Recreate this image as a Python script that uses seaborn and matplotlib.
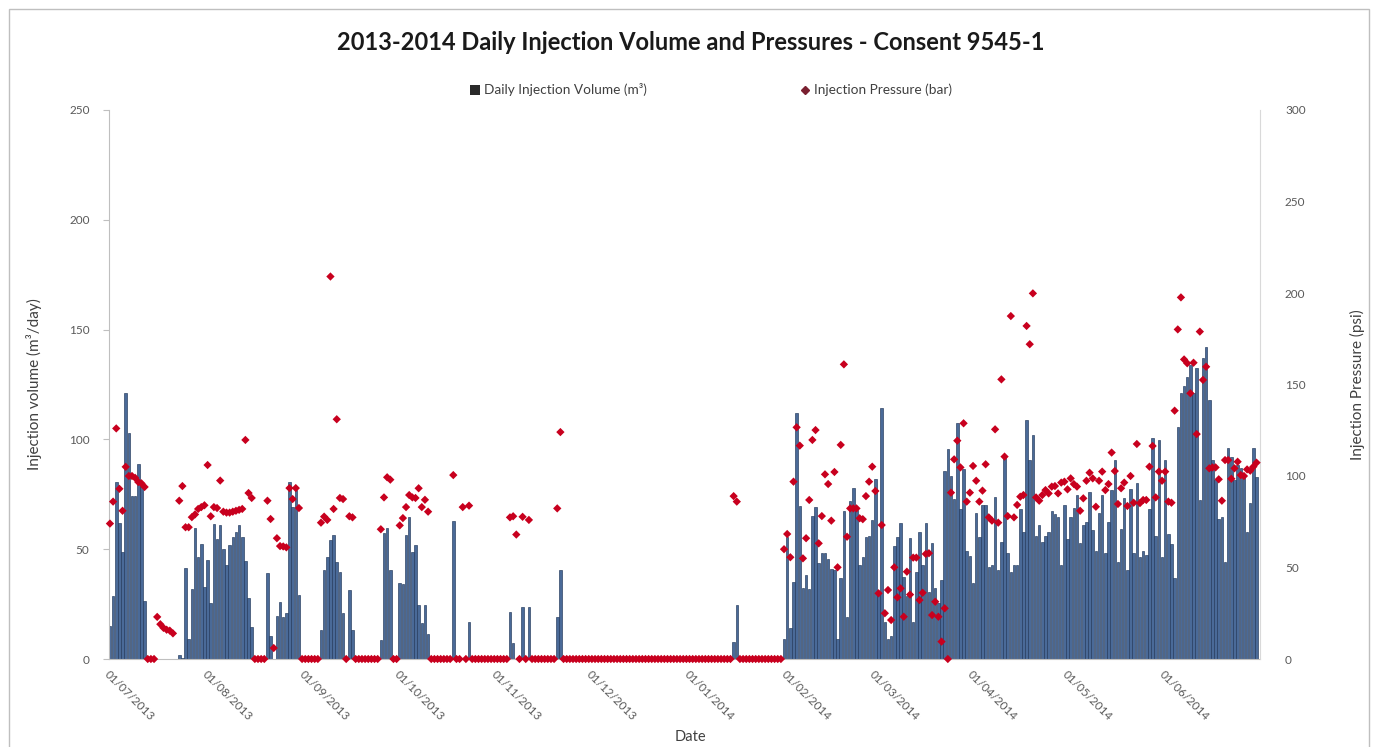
import numpy as np
import pandas as pd
import matplotlib
matplotlib.use("Agg")
import matplotlib.pyplot as plt
import seaborn as sns
from matplotlib.patches import Patch, Rectangle
from matplotlib.lines import Line2D

nan = np.nan

# ---- data: daily injection volume (m3/day) per month ----
vol_jul = [15, 28.7, 80.7, 62, 48.5, 121, 103, 74, 74, 88.8, 79.7, 26.6, 0, 0, 0, 0, 0, 0, 0, 0, 0, 0,
           2, 0.5, 41.4, 9, 32, 59.6, 46.6, 52.4, 32.7]
vol_aug = [45, 25.6, 61.5, 54.6, 61, 50, 42.8, 52, 55.7, 58, 61, 55.7, 44.8, 27.7, 14.6, 0, 0, 0, 0,
           39, 10.5, 0, 19.6, 26, 19.3, 21, 80.7, 69, 77, 29, 0]
vol_sep = [0, 0, 0, 0, 0, 13, 40.5, 46.6, 54, 56.4, 44.3, 39.8, 21, 0, 31.4, 13, 0, 0, 0, 0, 0, 0, 0, 0,
           8.6, 57.5, 59.6, 40.5, 0, 0]
vol_oct = [34.6, 34, 56.4, 64.8, 48.9, 52, 24.6, 16.4, 24.6, 11.4, 0, 0, 0, 0, 0, 0, 0, 63, 0, 0, 0, 0,
           17, 0, 0, 0, 0, 0, 0, 0, 0]
vol_nov = [0, 0, 0, 0, 21.5, 7.3, 0, 0, 23.8, 0, 23.8, 0, 0, 0, 0, 0, 0, 0, 0, 19.3, 40.5,
           0, 0, 0, 0, 0, 0, 0, 0, 0]
vol_dec = [0, 0, 0, 0, 0, 0, 0, 0, 0, 0, 0, 0, 0, 0, 0, 0, 0, 0, 0, 0, 0, 0, 0, 0, 0, 0, 0, 0, 0, 0, 0]
vol_jan = [0, 0, 0, 0, 0, 0, 0, 0, 0, 0, 0, 0, 0, 0, 7.9, 24.6, 0, 0, 0, 0, 0, 0, 0, 0, 0, 0, 0, 0, 0, 0, 9]
vol_feb = [55.7, 14, 35, 112, 69.7, 32.2, 38.3, 31.7, 65.1, 69, 43.9, 48.4, 48.4, 45.4, 40.8, 40.5, 9,
           36.7, 67.5, 19, 72.1, 77.7, 67.9, 42.8, 46.6, 55.4, 56, 63.3]
vol_mar = [81.8, 29.9, 114.2, 17, 9, 10.5, 51.5, 55.7, 61.8, 37.5, 28.7, 54.9, 17, 39.8, 58, 42.8, 61.8,
           30.7, 52.6, 32.2, 25.4, 36, 85.7, 95.5, 83.3, 72.7, 107.6, 68.1, 86.3, 49, 46.9]
vol_apr = [34.4, 66.3, 55.7, 70.1, 70.1, 42, 42.8, 73.6, 40.5, 53.4, 92.4, 48.1, 39.8, 42.8, 42.8, 68.1,
           58, 108.8, 90.6, 102, 56, 61, 53.4, 56, 58, 67.5, 66, 64.8, 42.8, 70.1]
vol_may = [54.5, 64.8, 68.6, 74.7, 53, 61, 62.5, 76.2, 58.7, 49, 66.6, 74.7, 48.1, 62.5, 77, 90.6, 44.3,
           59, 73.2, 40.5, 77.3, 48.1, 80.3, 46.3, 49, 47.4, 68.1, 100.5, 56, 99.7, 46.6]
vol_jun = [90.6, 56.9, 52.4, 36.7, 105.8, 121, 124.3, 128.6, 133.9, 121, 132.4, 72.4, 136.9, 141.9, 118,
           90.6, 81.5, 63.6, 64.8, 44.3, 95.9, 92.1, 81.5, 88.3, 86.8, 83, 58, 70.9, 95.9, 83]

# ---- data: injection pressure (psi) per month ----
pres_jul = [74, 86, 126, 93, 81, 105, 100, 100, 99, 96.7, 96, 94, 0, 0, 0, 23, 19, 17, 16, 15.5, 14, nan,
            86.5, 94.5, 72, 72, 77.5, 79, 82, 83, 84]
pres_aug = [106, 78, 83, 82.5, 97.5, 80.5, 80, 80, 80.5, 81, 81.5, 82, 119.7, 90.7, 88, 0, 0, 0, 0,
            86.5, 76.5, 6, 66, 61.7, 61.5, 61, 93.4, 87.4, 93.4, 82.5, 0]
pres_sep = [0, 0, 0, 0, 0, 74.5, 77.8, 76, 209, 82, 131, 88, 87.4, 0, 78, 77.4, 0, 0, 0, 0, 0, 0, 0, 0,
            70.9, 88.3, 99.3, 98, 0, 0]
pres_oct = [73, 77, 83, 89.6, 88.3, 88, 93.3, 83, 87, 80.5, 0, 0, 0, 0, 0, 0, 0, 100.5, 0, 0, 83, 0,
            83.8, 0, 0, 0, 0, 0, 0, 0, 0]
pres_nov = [0, 0, 0, 0, 77.4, 78, 68, 0, 77.7, 0, 76, 0, 0, 0, 0, 0, 0, 0, 0, 82.3, 124,
            0, 0, 0, 0, 0, 0, 0, 0, 0]
pres_dec = [0, 0, 0, 0, 0, 0, 0, 0, 0, 0, 0, 0, 0, 0, 0, 0, 0, 0, 0, 0, 0, 0, 0, 0, 0, 0, 0, 0, 0, 0, 0]
pres_jan = [0, 0, 0, 0, 0, 0, 0, 0, 0, 0, 0, 0, 0, 0, 89, 86, 0, 0, 0, 0, 0, 0, 0, 0, 0, 0, 0, 0, 0, 0, 60]
pres_feb = [68.3, 55.6, 96.9, 126.6, 116.6, 55, 66, 86.9, 119.7, 125.1, 63.2, 78.1, 100.9, 95.6, 75.6,
            102.2, 50.1, 117, 161, 66.8, 82.3, 82.3, 82.3, 76.9, 76.4, 89, 96.9, 105.1]
pres_mar = [91.8, 35.9, 73.2, 25, 37.7, 21.3, 50.1, 33.7, 38.6, 23.1, 47.7, 35.2, 55.4, 55.4, 32.2, 36.2,
            57.4, 57.8, 24, 31.3, 23.1, 9.5, 27.7, 0, 90.9, 109.1, 119.3, 104.7, 128.8, 86, 90.9]
pres_apr = [105.5, 97.4, 86, 92, 106.4, 77.4, 75.6, 125.5, 74.5, 152.8, 110.6, 78.1, 187.4, 77.4, 84.2,
            88.7, 89.6, 182, 172, 199.8, 88.3, 86.5, 89.6, 92.3, 90.5, 94.2, 94.5, 90.5, 96.4, 96.9]
pres_may = [92.7, 98.7, 95.6, 94.2, 81, 87.8, 97.4, 101.8, 98.7, 83.2, 97.4, 102.4, 92.3, 95.6, 112.8,
            102.7, 84.7, 93.3, 96.4, 83.6, 100, 85.4, 117.5, 85.2, 86.9, 86.9, 105.1, 116.4, 88.3, 102.4, 97.4]
pres_jun = [102.4, 86, 85.4, 135.7, 180.1, 197.6, 163.7, 161.6, 145.2, 161.9, 122.9, 178.9, 152.5, 159.7,
            104.2, 104.7, 104.7, 98.2, 86.5, 108.7, 108.7, 98.5, 104.2, 107.8, 100.5, 100, 103.6, 102.9,
            105.1, 107.3]

tick_labels = ["01/07/2013", "01/08/2013", "01/09/2013", "01/10/2013", "01/11/2013", "01/12/2013",
               "01/01/2014", "01/02/2014", "01/03/2014", "01/04/2014", "01/05/2014", "01/06/2014"]
start_date = "2013-07-01"

title = "2013-2014 Daily Injection Volume and Pressures - Consent 9545-1"
legend_labels = ["Daily Injection Volume (m³)", "Injection Pressure (bar)"]

volume = (vol_jul + vol_aug + vol_sep + vol_oct + vol_nov + vol_dec +
          vol_jan + vol_feb + vol_mar + vol_apr + vol_may + vol_jun)
pressure = (pres_jul + pres_aug + pres_sep + pres_oct + pres_nov + pres_dec +
            pres_jan + pres_feb + pres_mar + pres_apr + pres_may + pres_jun)

dates = pd.date_range(start_date, periods=len(volume), freq="D")
df = pd.DataFrame({"day": np.arange(len(volume)), "volume": volume, "pressure": pressure})
tick_pos = [(d - dates[0]).days for d in pd.to_datetime(tick_labels, dayfirst=True)]

# ---- style ----
sns.set_theme(style="white")
plt.rcParams["font.family"] = ["Lato", "DejaVu Sans"]

W, H = 1375, 747
fig = plt.figure(figsize=(W / 100, H / 100), dpi=100)
L, R, T, B = 109, 1260, 110, 659
ax = fig.add_axes([L / W, 1 - B / H, (R - L) / W, (B - T) / H])

bar_face = "#4A6A98"
bar_edge = "#22385A"
red = "#C8001E"
grey_txt = "#595959"
spine_c = "#BFBFBF"

sns.barplot(data=df, x="day", y="volume", native_scale=True, width=0.8, color=bar_face,
            saturation=1, edgecolor=bar_edge, linewidth=0.45, errorbar=None, ax=ax)

ax2 = ax.twinx()
sns.scatterplot(data=df, x="day", y="pressure", marker="D", s=18, color=red, edgecolor="none",
                ax=ax2, legend=False, zorder=3)
for c in ax2.collections:
    c.set_clip_on(False)

for a in (ax, ax2):
    a.set_xlim(-0.3, 365.1)
ax.set_ylim(0, 250)
ax2.set_ylim(0, 300)
ax.set_yticks(np.arange(0, 251, 50))
ax2.set_yticks(np.arange(0, 301, 50))

ax.set_xticks(tick_pos)
ax.set_xticklabels(tick_labels, rotation=-45, ha="left", va="top", rotation_mode="anchor",
                   fontsize=8.5, color=grey_txt)
ax.tick_params(axis="x", length=0, pad=7)
ax.tick_params(axis="y", length=4, width=0.8, color=spine_c, labelsize=8.5, labelcolor=grey_txt,
               pad=10, left=True)
ax2.tick_params(axis="y", length=0, labelsize=8.5, labelcolor=grey_txt, pad=18, right=True)

ax.set_xlabel("")
ax.set_ylabel("Injection volume (m³/day)", fontsize=11, color="#404040")
ax.yaxis.set_label_coords((42 - L) / (R - L), 0.5)
ax2.set_ylabel("Injection Pressure (psi)", fontsize=11, color="#404040", rotation=90)
ax2.yaxis.set_label_coords((1350 - L) / (R - L), 0.5)

for a in (ax, ax2):
    a.spines["top"].set_visible(False)
ax.spines["left"].set_color(spine_c)
ax.spines["bottom"].set_color(spine_c)
ax.spines["right"].set_visible(False)
ax2.spines["left"].set_visible(False)
ax2.spines["bottom"].set_visible(False)
ax2.spines["right"].set_color("#D9D9D9")
for s in ("left", "bottom"):
    ax.spines[s].set_linewidth(0.8)
ax2.spines["right"].set_linewidth(0.8)

fig.text(691 / W, 1 - 42 / H, title, ha="center", va="center", fontsize=17,
         fontweight="bold", color="#1A1A1A")
fig.text(690 / W, 1 - 737 / H, "Date", ha="center", va="center", fontsize=10.5, color="#404040")

handles = [Patch(facecolor="#2A2A2A", edgecolor="none"),
           Line2D([], [], marker="D", linestyle="none", markersize=3.8, color="#7A2030")]
fig.legend(handles, legend_labels, loc="center", bbox_to_anchor=(711 / W, 1 - 90 / H), ncol=2,
           frameon=False, fontsize=9.8, labelcolor="#404040", columnspacing=11.3,
           handlelength=0.7, handleheight=0.7, handletextpad=0.3)

fig.add_artist(Rectangle((9 / W, -0.01), (1369 - 9) / W, 1 - 9 / H + 0.01, transform=fig.transFigure,
                         fill=False, edgecolor="#BFBFBF", linewidth=1))

fig.savefig("out.png", dpi=100)
